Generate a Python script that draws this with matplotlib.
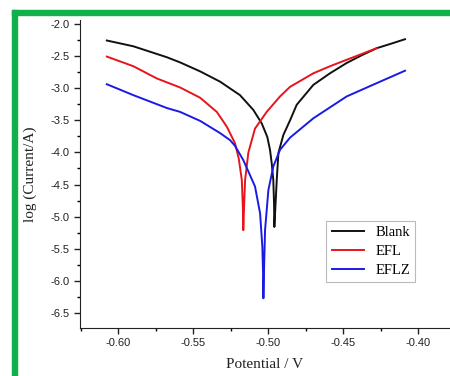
"""Tafel-Kurven: Blank, EFL, EFLZ (log Strom gegen Potential)."""

import matplotlib
matplotlib.use("Agg")
import matplotlib.pyplot as plt
from matplotlib.patches import Rectangle
from matplotlib.ticker import FormatStrFormatter, MultipleLocator

BLANK_V = [-0.6075, -0.5898, -0.5675, -0.5587, -0.5453, -0.532, -0.5187, -0.5098,
           -0.5042, -0.5005, -0.4987, -0.4975, -0.4965, -0.4960, -0.4958, -0.4950,
           -0.4942, -0.4931, -0.4898, -0.4853, -0.4809, -0.4698, -0.4587, -0.4476,
           -0.4376, -0.4276, -0.4180, -0.4087]
BLANK_L = [-2.26, -2.35, -2.52, -2.60, -2.74, -2.90, -3.11, -3.34,
           -3.55, -3.76, -3.96, -4.18, -4.43, -4.80, -5.16, -4.80,
           -4.43, -4.01, -3.73, -3.50, -3.26, -2.95, -2.77, -2.61,
           -2.49, -2.38, -2.31, -2.24]

EFL_V = [-0.6075, -0.5898, -0.5742, -0.5587, -0.5453, -0.5342, -0.5275, -0.522,
         -0.5195, -0.5175, -0.5168, -0.5165, -0.5160, -0.5153, -0.5131, -0.5087,
         -0.5009, -0.492, -0.4853, -0.4698, -0.4587, -0.4476, -0.4376, -0.4276]
EFL_L = [-2.51, -2.66, -2.85, -2.99, -3.15, -3.37, -3.60, -3.86,
         -4.10, -4.43, -4.85, -5.21, -4.85, -4.43, -4.00, -3.63,
         -3.37, -3.13, -2.98, -2.77, -2.66, -2.56, -2.47, -2.38]

EFLZ_V = [-0.6075, -0.5898, -0.5675, -0.5587, -0.5453, -0.532, -0.5253, -0.522,
          -0.5165, -0.5087, -0.5053, -0.5038, -0.5033, -0.5031, -0.5026, -0.502,
          -0.4998, -0.4965, -0.492, -0.4853, -0.4698, -0.4476, -0.4253, -0.4087]
EFLZ_L = [-2.94, -3.11, -3.31, -3.37, -3.51, -3.70, -3.81, -3.90,
          -4.12, -4.53, -4.95, -5.47, -5.90, -6.27, -5.75, -5.21,
          -4.59, -4.22, -3.96, -3.77, -3.47, -3.13, -2.90, -2.73]

SERIES = [("Blank", BLANK_V, BLANK_L, "#111111"),
          ("EFL", EFL_V, EFL_L, "#e8141c"),
          ("EFLZ", EFLZ_V, EFLZ_L, "#1a1ae6")]

fig = plt.figure(figsize=(4.5, 3.76), dpi=100)
ax = fig.add_axes([0.178, 0.128, 0.822, 0.819])

for name, v, l, c in SERIES:
    ax.plot(v, l, color=c, lw=1.4, label=name, solid_joinstyle="round")

ax.set_xlim(-0.6253, -0.3787)
ax.set_ylim(-6.73, -1.94)
ax.xaxis.set_major_locator(MultipleLocator(0.05))
ax.xaxis.set_minor_locator(MultipleLocator(0.025))
ax.yaxis.set_major_locator(MultipleLocator(0.5))
ax.yaxis.set_minor_locator(MultipleLocator(0.25))
ax.xaxis.set_major_formatter(FormatStrFormatter("%.2f"))
ax.yaxis.set_major_formatter(FormatStrFormatter("%.1f"))
ax.tick_params(which="major", direction="out", length=4, width=1,
               labelsize=8, colors="#222222")
ax.tick_params(which="minor", direction="out", length=2.5, width=1)
for lab in ax.get_xticklabels() + ax.get_yticklabels():
    lab.set_family("Liberation Sans")
for s in ("top", "right"):
    ax.spines[s].set_visible(False)
for s in ("left", "bottom"):
    ax.spines[s].set_color("#222222")

ax.set_xlabel("Potential / V", family="Liberation Serif", fontsize=11,
              color="#222222", labelpad=7)
ax.set_ylabel("log (Current/A)", family="Liberation Serif", fontsize=11,
              color="#222222", labelpad=10)

leg = ax.legend(loc="upper left", bbox_to_anchor=(0.666, 0.347),
                prop={"family": "Liberation Serif", "size": 10.5},
                frameon=True, fancybox=False, edgecolor="#aaaaaa",
                handlelength=2.2, borderpad=0.35, labelspacing=0.38,
                handletextpad=0.8, borderaxespad=0)
leg.get_frame().set_linewidth(0.8)

# gruener Rahmen oben und links
green = "#12b04c"
fig.patches.append(Rectangle((12 / 450, 0), 5 / 450, 1 - 10 / 376,
                             transform=fig.transFigure, color=green, zorder=5))
fig.patches.append(Rectangle((12 / 450, 1 - 15 / 376), 1, 5 / 376,
                             transform=fig.transFigure, color=green, zorder=5))

fig.savefig("out.png", dpi=100)
